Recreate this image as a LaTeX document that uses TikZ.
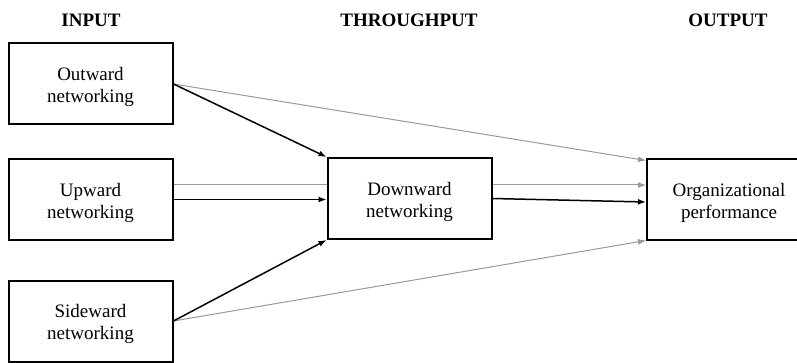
\documentclass[tikz,border=0pt]{standalone}
\usepackage{fontspec}
\setmainfont{Liberation Serif}
\usetikzlibrary{arrows.meta,backgrounds}
\begin{document}
\begin{tikzpicture}[x=1pt,y=-1pt,
  box/.style={draw=black,line width=2pt,fill=white,minimum width=164pt,minimum height=81pt,
    inner sep=0pt},
  txt/.style={inner sep=0pt,align=center,font=\fontsize{19}{22}\selectfont},
  head/.style={font=\fontsize{19}{22}\selectfont\bfseries,inner sep=0pt},
  blk/.style={draw=black,line width=1.5pt,-{Latex[length=8pt,width=6pt]}},
  gry/.style={draw=black!40,line width=1pt,-{Latex[length=8pt,width=6pt]}}]
\useasboundingbox (0,0) rectangle (797,363);
\node[head] (hin) at (91,20) {INPUT};
\node[head] (hth) at (409,20) {THROUGHPUT};
\node[head] (hout) at (728,20) {OUTPUT};
\node[box] (out) at (90.5,84) {};
\node[box] (up) at (90.5,199.5) {};
\node[box] (side) at (90.5,321) {};
\node[box] (down) at (409.5,198.5) {};
\node[box] (org) at (729,200) {};
\node[txt] (tout) at ([yshift=-3pt]out.center) {Outward\\networking};
\node[txt] (tup) at ([yshift=-3pt]up.center) {Upward\\networking};
\node[txt] (tside) at ([yshift=-3pt]side.center) {Sideward\\networking};
\node[txt] (tdown) at ([yshift=-3pt]down.center) {Downward\\networking};
\node[txt] (torg) at ([yshift=-3pt]org.center) {Organizational\\performance};
\begin{pgfonlayer}{background}
\draw[gry] ([yshift=14.5pt]up.east) -- ([yshift=14.5pt]up.east -| org.west);
\end{pgfonlayer}
\draw[gry] (out.east) -- ([yshift=-2pt]org.north west);
\draw[gry] (side.east) -- ([yshift=1pt]org.south west);
\draw[blk] (out.east) -- (down.north west);
\draw[blk] (up.east) -- (up.east -| down.west);
\draw[blk] (side.east) -- (down.south west);
\draw[blk] (down.east) -- ([yshift=-2pt]org.west);
\end{tikzpicture}
\end{document}
